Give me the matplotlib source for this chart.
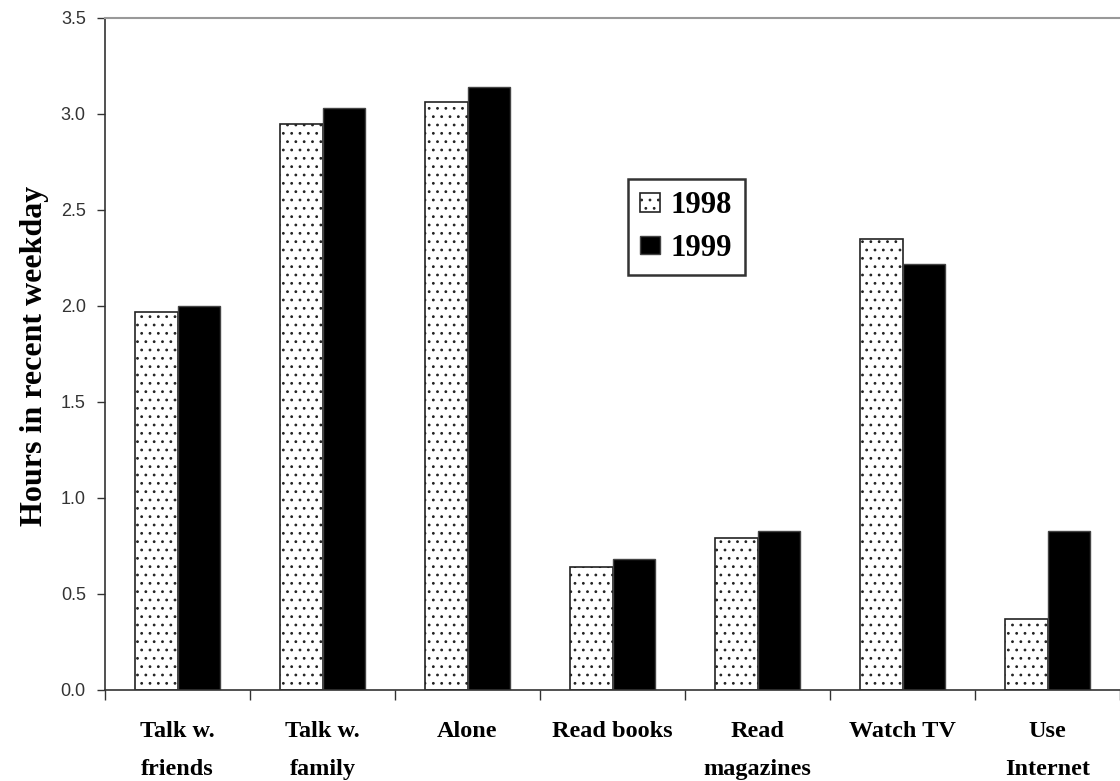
import numpy as np
import matplotlib
matplotlib.use("Agg")
import matplotlib.pyplot as plt

# data
activities = ["Talk w.\nfriends", "Talk w.\nfamily", "Alone", "Read books",
              "Read\nmagazines", "Watch TV", "Use\nInternet"]
hours_1998 = [1.97, 2.95, 3.06, 0.64, 0.79, 2.35, 0.37]
hours_1999 = [2.00, 3.03, 3.14, 0.68, 0.83, 2.22, 0.83]
years = ["1998", "1999"]

plt.rcParams['hatch.linewidth'] = 0.8

fig = plt.figure(figsize=(11.2, 7.81), dpi=100)
ax = fig.add_axes([105/1120, 1 - 690/781, 1 - 105/1120, (690 - 18)/781])

x = np.arange(len(activities))
w = 0.295
ax.bar(x - w/2, hours_1998, w, facecolor='white', edgecolor='#222222',
       hatch='..', linewidth=1.2, label=years[0])
ax.bar(x + w/2, hours_1999, w, facecolor='black', edgecolor='#444444',
       linewidth=1.0, label=years[1])

ax.set_xlim(-0.5, 6.47)
ax.set_ylim(0, 3.5)
yt = np.arange(0, 3.51, 0.5)
ax.set_yticks(yt)
ax.set_yticklabels(["%.1f" % v for v in yt],
                   family='Liberation Sans', fontsize=13, color='#333333')
ax.tick_params(axis='y', length=5.8, width=1, color='#333333', pad=8)

# category boundaries as ticks, names at centres
ax.set_xticks(np.arange(-0.5, 7, 1.0))
ax.set_xticklabels([])
ax.tick_params(axis='x', which='major', length=7.2, width=1, color='#333333')
ax.set_xticks(x, minor=True)
ax.set_xticklabels(activities, minor=True, family='Liberation Serif',
                   fontweight='bold', fontsize=17.5, linespacing=2.1)
ax.tick_params(axis='x', which='minor', length=0, pad=22)

ax.spines['right'].set_visible(False)
ax.spines['top'].set_color('#999999')
ax.spines['top'].set_linewidth(1.5)
for s in ['left', 'bottom']:
    ax.spines[s].set_color('#333333')
    ax.spines[s].set_linewidth(1.2)

ax.set_ylabel("Hours in recent weekday", family='Liberation Serif',
              fontweight='bold', fontsize=23)
ax.yaxis.set_label_coords(-0.055, 0.497)

leg = ax.legend(loc='upper left', bbox_to_anchor=((628-105)/1015, (690-179)/672),
                prop={'family': 'Liberation Serif', 'weight': 'bold', 'size': 22},
                frameon=True, fancybox=False, edgecolor='black',
                handlelength=0.65, handleheight=0.55, handletextpad=0.35,
                borderpad=0.4, labelspacing=0.45, borderaxespad=0)
leg.get_frame().set_linewidth(1.8)

fig.savefig("out.png", dpi=100)
